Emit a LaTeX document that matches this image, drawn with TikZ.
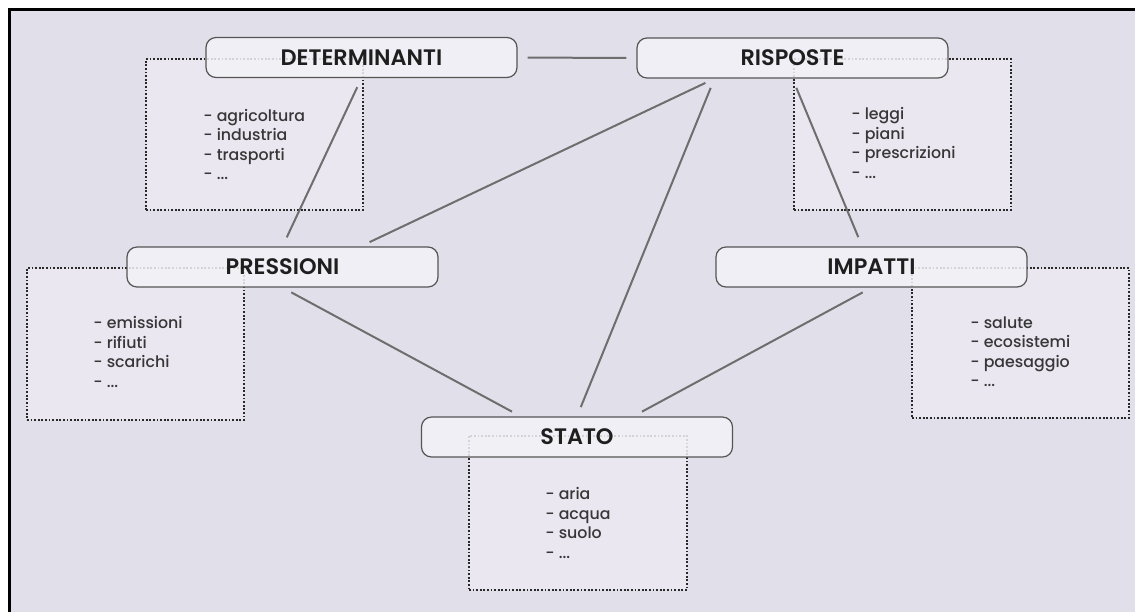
\documentclass[tikz,border=0pt]{standalone}
\usepackage{fontspec}
\setmainfont{Poppins}[BoldFont={Poppins SemiBold}]
\newfontfamily\listfont{Poppins Medium}
\usetikzlibrary{calc}
\definecolor{bgcol}{RGB}{225,224,234}
\definecolor{boxfill}{RGB}{243,242,247}
\definecolor{listfill}{RGB}{234,231,240}
\definecolor{boxline}{RGB}{85,85,85}
\definecolor{dotline}{RGB}{40,40,40}
\definecolor{linkcol}{RGB}{110,110,110}
\definecolor{titletxt}{RGB}{30,30,30}
\definecolor{listtxt}{RGB}{55,55,55}
\tikzset{
  titlebox/.style={draw=boxline, line width=0.6pt, fill=boxfill, fill opacity=0.85, text opacity=1,
    rounded corners=5pt, minimum width=155.5pt, minimum height=20pt, inner sep=0pt,
    font=\bfseries\fontsize{11.2}{12}\selectfont, text=titletxt},
  listbox/.style={draw=dotline, fill=listfill, line width=0.9pt, dash pattern=on 0.9pt off 0.9pt,
    inner sep=0pt, anchor=north west},
  listtext/.style={anchor=north west, align=left, inner sep=0pt,
    font=\listfont\fontsize{7.9}{9.75}\selectfont, text=listtxt},
  link/.style={draw=linkcol, line width=1pt, shorten <=5pt, shorten >=5pt}
}
\begin{document}
\begin{tikzpicture}[x=0.5pt, y=-0.5pt]

\useasboundingbox (0,0) rectangle (1135,612);
\fill[bgcol] (9.5,9.5) rectangle (1135,612);
\draw[line width=1.5pt] (9.5,612) -- (9.5,9.5) -- (1135,9.5);

\node[listbox, minimum width=108.5pt, minimum height=75.5pt] (DLx) at (145,58) {};
\node[listbox, minimum width=108.5pt, minimum height=75.5pt] (RLx) at (793,58) {};
\node[listbox, minimum width=108.5pt, minimum height=76pt] (PLx) at (26,267) {};
\node[listbox, minimum width=108.5pt, minimum height=75pt] (ILx) at (911,267) {};
\node[listbox, minimum width=109pt, minimum height=77pt] (SLx) at (468,435) {};

\node[listtext] (DTx) at (203,108.5) {\vphantom{l}- agricoltura\\- industria\\- trasporti\\- ...};
\node[listtext] (RTx) at (851,107) {\vphantom{l}- leggi\\- piani\\- prescrizioni\\- ...};
\node[listtext] (PTx) at (93,316) {\vphantom{l}- emissioni\\- rifiuti\\- scarichi\\- ...};
\node[listtext] (ITx) at (970,316) {\vphantom{l}- salute\\- ecosistemi\\- paesaggio\\- ...};
\node[listtext] (STx) at (545,487) {\vphantom{l}- aria\\- acqua\\- suolo\\- ...};

\node[titlebox] (Dx) at (361.5,57.5) {DETERMINANTI};
\node[titlebox] (Rx) at (792.5,58) {RISPOSTE};
\node[titlebox] (Px) at (282.5,267) {PRESSIONI};
\node[titlebox] (Ix) at (871.5,267) {IMPATTI};
\node[titlebox] (Sx) at (577,437) {STATO};

\draw[link] (Dx) -- (Rx);
\draw[link] (Dx.south) -- (Px.north);
\draw[link] ($(Rx.south west)!0.25!(Rx.south east)$) -- ($(Px.north west)!0.75!(Px.north east)$);
\draw[link] ($(Rx.south west)!0.25!(Rx.south east)$) -- (Sx.north);
\draw[link] (Rx.south) -- ($(Ix.north west)!0.47!(Ix.north east)$);
\draw[link] (Px.south) -- ($(Sx.north west)!0.32!(Sx.north east)$);
\draw[link] (Ix.south) -- ($(Sx.north west)!0.68!(Sx.north east)$);

\end{tikzpicture}
\end{document}
